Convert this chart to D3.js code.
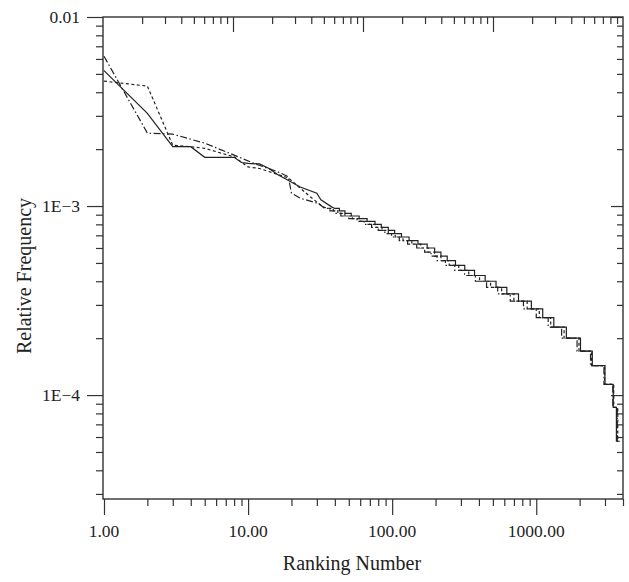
<!DOCTYPE html>
<html><head>
<meta charset="utf-8">
<title>Rank Frequency</title>
<script src="https://d3js.org/d3.v7.min.js"></script>
<style>
  body { margin: 0; background: #fff; }
  text { font-family: "Liberation Serif", "Times New Roman", serif; fill: #222; }
</style>
</head>
<body>
<div id="chart"></div>
<script>
    const svgWidth = 629;
    const svgHeight = 582;
    const plotLeft = 103, plotRight = 623, plotTop = 17, plotBottom = 499;

    // tick labels
    const xTickValues = [1, 10, 100, 1000];
    const xTickLabels = ["1.00", "10.00", "100.00", "1000.00"];
    const yTickValues = [0.01, 1e-3, 1e-4];
    const yTickLabels = ["0.01", "1E\u22123", "1E\u22124"];

    // shared frequency levels of the stepped tail
    const tailLevels = [9.71e-4, 9.43e-4, 9.14e-4, 8.86e-4, 8.57e-4, 8.29e-4, 8.00e-4, 7.71e-4, 7.43e-4, 7.14e-4,
                        6.86e-4, 6.57e-4, 6.29e-4, 6.00e-4, 5.71e-4, 5.43e-4, 5.14e-4, 4.86e-4, 4.57e-4, 4.29e-4,
                        4.00e-4, 3.71e-4, 3.43e-4, 3.14e-4, 2.86e-4, 2.57e-4, 2.29e-4, 2.00e-4, 1.71e-4, 1.43e-4,
                        1.14e-4, 8.6e-5, 5.7e-5];

    // solid series
    const solidHeadRank = [1, 2, 3, 4, 5, 8, 9, 10, 12, 14, 16, 18, 23, 30, 32, 38];
    const solidHeadFreq = [5.2e-3, 3.09e-3, 2.06e-3, 2.06e-3, 1.81e-3, 1.81e-3, 1.70e-3, 1.68e-3, 1.67e-3, 1.58e-3,
                           1.47e-3, 1.40e-3, 1.26e-3, 1.17e-3, 1.08e-3, 9.9e-4];
    const solidStepRank = [40, 43, 47, 52, 59, 67, 76, 84, 94, 104, 116, 131, 151, 175, 197, 218, 241, 275, 319, 373,
                           442, 526, 625, 753, 925, 1109, 1324, 1618, 2028, 2449, 2999, 3420, 3600];
    const solidEnd = 3720;

    // short dashed series
    const dashHeadRank = [1, 2, 3, 4, 5, 8, 10, 12, 16, 19, 22, 27, 33];
    const dashHeadFreq = [4.58e-3, 4.31e-3, 2.10e-3, 2.06e-3, 2.02e-3, 1.82e-3, 1.61e-3, 1.58e-3, 1.47e-3, 1.41e-3,
                          1.28e-3, 1.12e-3, 9.9e-4];
    const dashStepRank = [36, 39, 42, 47, 53, 60, 68, 76, 85, 94, 105, 119, 137, 158, 178, 197, 218, 249, 290, 340,
                          404, 482, 575, 700, 865, 1050, 1260, 1560, 1980, 2420, 2980, 3450, 3680];
    const dashEnd = 3800;

    // dash-dot series
    const dotHeadRank = [1, 2, 3, 5, 8, 11, 16, 19, 20, 23, 31];
    const dotHeadFreq = [6.2e-3, 2.43e-3, 2.40e-3, 2.15e-3, 1.86e-3, 1.68e-3, 1.52e-3, 1.43e-3, 1.17e-3, 1.10e-3, 1.03e-3];
    const dotStepRank = [34, 37, 40, 44, 50, 57, 64, 72, 80, 89, 99, 112, 128, 148, 168, 186, 205, 234, 272, 318,
                         378, 452, 540, 660, 815, 1000, 1210, 1500, 1920, 2380, 2950, 3400, 3650];
    const dotEnd = 3850;

    function buildPoints(headRank, headFreq, stepRank, endRank) {
        let pts = headRank.map((r, i) => [r, headFreq[i]]);
        tailLevels.forEach((lv, i) => {
            let stop = i + 1 < stepRank.length ? stepRank[i + 1] : endRank;
            pts.push([stepRank[i], lv]);
            pts.push([stop, lv]);
        });
        return pts;
    }

    const svg = d3.select("#chart")
        .append("svg")
        .attr("width", svgWidth)
        .attr("height", svgHeight)
        .style("background", "#fff");

    const xScale = d3.scaleLog().domain([1, 4000]).range([plotLeft + 1, plotRight]);
    const xTopScale = d3.scaleLog().domain([1, 10000]).range([plotLeft, plotRight]);
    const yScale = d3.scaleLog().domain([2.82e-5, 0.01]).range([plotBottom, plotTop]);

    const axisColor = "#333";

    function drawAxis(axisFn, scale, ticks, size, transform) {
        let g = svg.append("g")
            .attr("transform", transform)
            .call(axisFn(scale).tickValues(ticks).tickSize(size).tickFormat(""));
        g.select(".domain").remove();
        g.selectAll("line").attr("stroke", axisColor).attr("stroke-width", 1.2);
        return g;
    }

    // bottom axis: ticks outward
    const xMinor = xScale.ticks().filter(v => xTickValues.indexOf(v) < 0);
    drawAxis(d3.axisBottom, xScale, xMinor, 7, "translate(0," + plotBottom + ")");
    drawAxis(d3.axisBottom, xScale, xTickValues, 16, "translate(0," + plotBottom + ")");

    // top axis: ticks inward
    const xTopMajor = [10, 100, 1000];
    const xTopMinor = xTopScale.ticks().filter(v => [1, 10, 100, 1000, 10000].indexOf(v) < 0);
    drawAxis(d3.axisTop, xTopScale, xTopMinor, -7, "translate(0," + plotTop + ")");
    drawAxis(d3.axisTop, xTopScale, xTopMajor, -15, "translate(0," + plotTop + ")");

    // left axis: ticks outward, right axis: ticks inward
    const yMinor = yScale.ticks().filter(v => yTickValues.every(t => Math.abs(t - v) / t > 1e-6));
    drawAxis(d3.axisLeft, yScale, yMinor, 7, "translate(" + plotLeft + ",0)");
    drawAxis(d3.axisLeft, yScale, yTickValues, 16, "translate(" + plotLeft + ",0)");
    drawAxis(d3.axisRight, yScale, yMinor, -6, "translate(" + plotRight + ",0)");
    drawAxis(d3.axisRight, yScale, yTickValues, -12, "translate(" + plotRight + ",0)");

    // frame
    svg.append("rect")
        .attr("x", plotLeft).attr("y", plotTop)
        .attr("width", plotRight - plotLeft).attr("height", plotBottom - plotTop)
        .attr("fill", "none").attr("stroke", axisColor).attr("stroke-width", 1.4);

    // tick labels
    svg.selectAll(".xlab").data(xTickValues).enter().append("text")
        .attr("x", d => xScale(d))
        .attr("y", 537)
        .attr("text-anchor", "middle")
        .style("font-size", "17.5px")
        .text((d, i) => xTickLabels[i]);

    svg.selectAll(".ylab").data(yTickValues).enter().append("text")
        .attr("x", 80)
        .attr("y", d => yScale(d))
        .attr("dy", "0.35em")
        .attr("text-anchor", "end")
        .style("font-size", "17.5px")
        .text((d, i) => yTickLabels[i]);

    // lines
    const line = d3.line()
        .x(d => xScale(d[0]))
        .y(d => yScale(d[1]));

    const series = [
        { pts: buildPoints(solidHeadRank, solidHeadFreq, solidStepRank, solidEnd), dash: null },
        { pts: buildPoints(dashHeadRank, dashHeadFreq, dashStepRank, dashEnd), dash: "3,2.5" },
        { pts: buildPoints(dotHeadRank, dotHeadFreq, dotStepRank, dotEnd), dash: "7,2.5,1.5,2.5" }
    ];

    series.forEach(s => {
        svg.append("path")
            .datum(s.pts)
            .attr("fill", "none")
            .attr("stroke", "#222")
            .attr("stroke-width", 1.2)
            .attr("stroke-dasharray", s.dash)
            .attr("d", line);
    });

    // axis titles
    svg.append("text")
        .attr("x", 352)
        .attr("y", 570)
        .attr("text-anchor", "middle")
        .style("font-size", "20px")
        .text("Ranking Number");

    svg.append("text")
        .attr("transform", "translate(31,276) rotate(-90)")
        .attr("text-anchor", "middle")
        .style("font-size", "20px")
        .text("Relative Frequency");
</script>
</body>
</html>
